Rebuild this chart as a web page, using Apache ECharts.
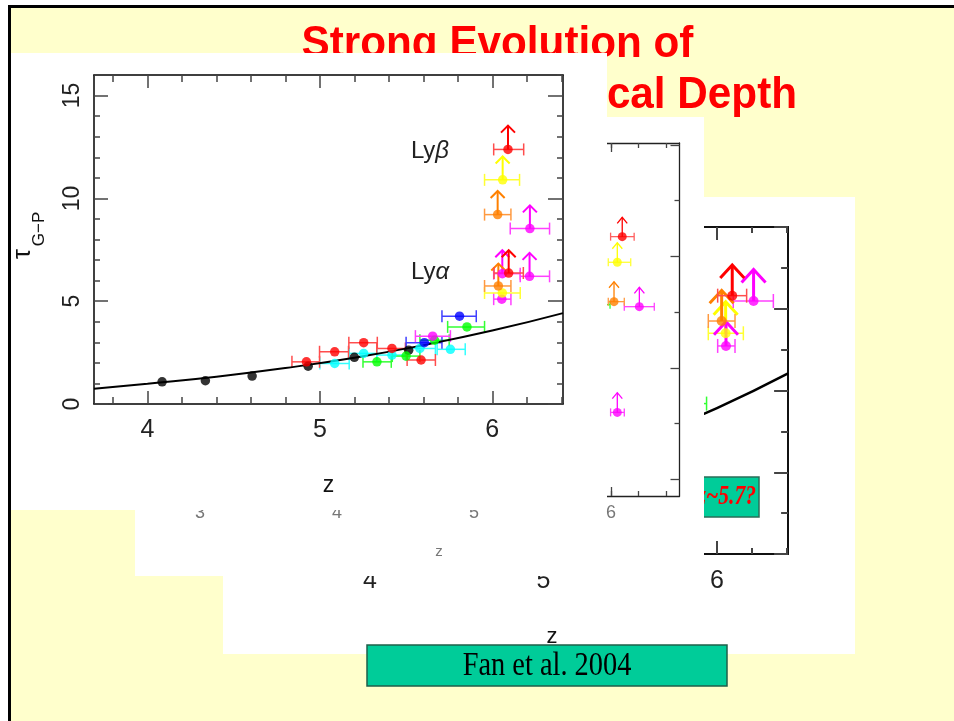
<!DOCTYPE html>
<html><head><meta charset="utf-8">
<script src="https://cdn.jsdelivr.net/npm/echarts@6/dist/echarts.min.js"></script>
<style>html,body{margin:0;padding:0;background:#fff}#c{width:954px;height:721px}</style>
</head><body><div id="c"></div>
<script>
// ================= DATA =================
// rows: [z, tau, zLow, zHigh, lowerLimitArrowTop (null = none)]
// ---- front figure (A) ----
const aBlack   = [[4.085,1.08],[4.336,1.13],[4.607,1.36],[4.932,1.84],[5.20,2.27],[5.515,2.62]];
const aRed     = [[4.922,2.05,4.838,4.998,null],[5.086,2.54,4.998,5.166,null],[5.254,2.98,5.168,5.333,null],
                  [5.418,2.70,5.33,5.496,null],[5.587,2.14,5.506,5.67,null],
                  [6.095,6.37,6.01,6.18,7.48],[6.091,12.38,6.008,6.182,13.54]];
const aCyan    = [[5.086,1.97,5.0,5.17,null],[5.254,2.46,5.17,5.33,null],[5.418,2.38,5.33,5.50,null],
                  [5.58,2.70,5.50,5.67,null],[5.757,2.66,5.68,5.843,null]];
const aGreen   = [[5.331,2.05,5.25,5.414,null],[5.50,2.33,5.42,5.58,null],[5.665,3.10,5.58,5.75,null],[5.853,3.75,5.741,5.955,null]];
const aBlue    = [[5.606,2.98,5.50,5.708,null],[5.81,4.27,5.708,5.907,null]];
const aMagenta = [[5.654,3.30,5.554,5.757,null],[6.055,5.10,6.008,6.108,null],[6.058,6.34,6.008,6.162,7.48],
                  [6.216,6.21,6.162,6.332,7.35],[6.218,8.53,6.104,6.332,9.66]];
const aOrange  = [[6.035,5.74,5.955,6.108,6.83],[6.031,9.21,5.955,6.108,10.36]];
const aYellow  = [[6.058,5.40,5.955,6.162,null],[6.06,10.9,5.955,6.158,12.04]];
// model curve
const curveZ   = [3.69, 4.0, 4.4, 4.8, 5.2, 5.6, 6.0, 6.41];
const curveTau = [0.74, 0.99, 1.33, 1.75, 2.25, 2.86, 3.57, 4.42];
// ---- middle figure (B) ----
const bRed     = [[6.082,13.06,5.997,6.169,14.1]];
const bYellow  = [[6.046,11.68,5.98,6.144,12.73]];
const bOrange  = [[6.022,9.56,5.98,6.097,10.63]];
const bMagenta = [[6.207,9.29,6.097,6.316,10.33],[6.046,3.6,5.997,6.097,4.66]];
const bGreen   = [[5.90,9.4,5.81,5.993,null]];
// ---- back figure (C) ----
const cRed     = [[6.088,6.32,6.004,6.171,7.07]];
const cMagenta = [[6.211,6.19,6.094,6.325,6.96],[6.052,5.09,6.004,6.104,5.68]];
const cOrange  = [[6.027,5.70,5.95,6.104,6.45]];
const cYellow  = [[6.05,5.40,5.95,6.152,6.17]];
const cGreen   = [[5.85,3.68,5.76,5.94,null]];
// ---- ticks / labels ----
const aXMajor = [4,5,6];
const aXMinor = [3.8,4.0,4.2,4.4,4.6,4.8,5.0,5.2,5.4,5.6,5.8,6.0,6.2,6.4];
const aYMajor = [0,5,10,15];
const aYMinor = [1,2,3,4,6,7,8,9,11,12,13,14,16];
const bXMajor = [3,4,5,6];
const bXMinor = [2.8,3.0,3.2,3.4,3.6,3.8,4.0,4.2,4.4,4.6,4.8,5.0,5.2,5.4,5.6,5.8,6.0,6.2,6.4];
const bYLong  = [0,6,12,18];
const bYShort = [3,9,15];
const cXMajor = [4,5,6];
const cXMinor = [3.6,3.8,4.0,4.2,4.4,4.6,4.8,5.0,5.2,5.4,5.6,5.8,6.0,6.2,6.4];
const cYLong  = [0,2,4,6,8];
const cYShort = [1,3,5,7];
const titleLine1 = 'Strong Evolution of';
const titleLine2 = 'Gunn-Peterson Optical Depth';

// ================= BUILD =================
const SANS = "'Liberation Sans', Arial, sans-serif";
const SERIF = "'Liberation Serif', 'Times New Roman', serif";
const grids = [], xAxes = [], yAxes = [], series = [];

function addPanel(c){
  const ai = xAxes.length;
  const gMaj = grids.length, gMin = gMaj + 1;
  grids.push(Object.assign({show:false}, c.rect));
  grids.push(Object.assign({show:false}, c.rect));
  const lineOn = {show:true, onZero:false, lineStyle:{color:c.axisColor, width:c.axisWidth}};
  const lineOff = {show:false, onZero:false};
  const tick = (vals,len)=>({show:true, inside:true, length:len, customValues:vals,
                             lineStyle:{color:c.tickColor, width:c.tickWidth}});
  const xb = {type:'value', min:c.xMin, max:c.xMax, splitLine:{show:false}, z:c.z, silent:true};
  const yb = {type:'value', min:c.yMin, max:c.yMax, splitLine:{show:false}, z:c.z, silent:true};
  xAxes.push(Object.assign({}, xb, {gridIndex:gMaj, position:'bottom', axisLine:lineOn, axisTick:tick(c.xMajor,c.xMajLen), axisLabel:c.xLabel}, c.xName||{}));
  xAxes.push(Object.assign({}, xb, {gridIndex:gMaj, position:'top', axisLine:lineOn, axisTick:tick(c.xMajor,c.xMajLen), axisLabel:{show:false}}));
  xAxes.push(Object.assign({}, xb, {gridIndex:gMin, position:'bottom', axisLine:lineOff, axisTick:tick(c.xMinor,c.xMinLen), axisLabel:{show:false}}));
  xAxes.push(Object.assign({}, xb, {gridIndex:gMin, position:'top', axisLine:lineOff, axisTick:tick(c.xMinor,c.xMinLen), axisLabel:{show:false}}));
  yAxes.push(Object.assign({}, yb, {gridIndex:gMaj, position:'left', axisLine:lineOn, axisTick:tick(c.yMajor,c.yMajLen), axisLabel:c.yLabel||{show:false}}));
  yAxes.push(Object.assign({}, yb, {gridIndex:gMaj, position:'right', axisLine:lineOn, axisTick:tick(c.yMajor,c.yMajLenR), axisLabel:{show:false}}));
  yAxes.push(Object.assign({}, yb, {gridIndex:gMin, position:'left', axisLine:lineOff, axisTick:tick(c.yMinor,c.yMinLen), axisLabel:{show:false}}));
  yAxes.push(Object.assign({}, yb, {gridIndex:gMin, position:'right', axisLine:lineOff, axisTick:tick(c.yMinor,c.yMinLen), axisLabel:{show:false}}));
  return ai;
}

function addPoints(rows, ai, col, barCol, st, z){
  series.push({
    type:'custom', xAxisIndex:ai, yAxisIndex:ai, z:z, silent:true, animation:false,
    data: rows.map(r=>[r[0], r[1]]), encode:{x:0, y:1},
    renderItem:(params, api)=>{
      const r = rows[params.dataIndex];
      const p = api.coord([r[0], r[1]]);
      const kids = [];
      if (r[2] != null) {
        const pl = api.coord([r[2], r[1]]), pr = api.coord([r[3], r[1]]);
        const s = {stroke:barCol, lineWidth:st.lw};
        kids.push({type:'line', shape:{x1:pl[0],y1:p[1],x2:pr[0],y2:p[1]}, style:s});
        kids.push({type:'line', shape:{x1:pl[0],y1:p[1]-st.cap,x2:pl[0],y2:p[1]+st.cap}, style:s});
        kids.push({type:'line', shape:{x1:pr[0],y1:p[1]-st.cap,x2:pr[0],y2:p[1]+st.cap}, style:s});
      }
      if (r[4] != null) {
        const pt = api.coord([r[0], r[4]]);
        const s = {stroke:col, lineWidth:st.alw, fill:null};
        kids.push({type:'line', shape:{x1:p[0],y1:p[1],x2:p[0],y2:pt[1]}, style:s});
        kids.push({type:'polyline', shape:{points:[[p[0]-st.cw,pt[1]+st.ch],[p[0],pt[1]],[p[0]+st.cw,pt[1]+st.ch]]}, style:s});
      }
      return {type:'group', children:kids};
    }
  });
  series.push({
    type:'scatter', xAxisIndex:ai, yAxisIndex:ai, z:z+1, silent:true, animation:false,
    symbol:'circle', symbolSize:st.size, itemStyle:{color:col},
    data: rows.map(r=>[r[0], r[1]])
  });
}

function addCurve(ai, z, w){
  series.push({type:'line', xAxisIndex:ai, yAxisIndex:ai, z:z, silent:true, animation:false,
    smooth:true, showSymbol:false, lineStyle:{color:'#000', width:w},
    data: curveZ.map((v,i)=>[v, curveTau[i]])});
}

// ---- Panel C (back) ----
const axC = addPanel({
  rect:{left:300.6, top:227, width:487.5, height:327}, xMin:3.6, xMax:6.41, yMin:0, yMax:8, z:3,
  axisColor:'#111', axisWidth:2, tickColor:'#444', tickWidth:2,
  xMajor:cXMajor, xMinor:cXMinor, xMajLen:13, xMinLen:6,
  yMajor:cYLong, yMinor:cYShort, yMajLen:14, yMajLenR:14, yMinLen:7,
  xLabel:{show:true, customValues:cXMajor, margin:15, fontSize:25, color:'#222', fontFamily:SANS}
});
const stC = {lw:1.5, cap:7, alw:3, cw:12, ch:13, size:10};
addCurve(axC, 4, 2.5);
addPoints(cGreen, axC, '#00ff00', '#33ff33', stC, 4);
addPoints(cYellow, axC, '#ffff00', '#ffff33', stC, 4);
addPoints(cMagenta, axC, '#ff00ff', '#ff40ff', stC, 4);
addPoints(cOrange, axC, '#ff8000', '#ff9a40', stC, 4);
addPoints(cRed, axC, '#ff0000', '#ff4d4d', stC, 4);

// ---- Panel B (middle) ----
const axB = addPanel({
  rect:{left:172.6, top:143, width:506.9, height:353}, xMin:2.8, xMax:6.5, yMin:-0.9, yMax:18.1, z:7,
  axisColor:'#222', axisWidth:1.3, tickColor:'#444', tickWidth:1.3,
  xMajor:bXMajor, xMinor:bXMinor, xMajLen:9, xMinLen:5,
  yMajor:bYLong, yMinor:bYShort, yMajLen:9, yMajLenR:9, yMinLen:5,
  xLabel:{show:true, customValues:bXMajor, margin:8, fontSize:18, color:'#777', fontFamily:SANS}
});
const stB = {lw:1.3, cap:4, alw:1.3, cw:5, ch:6, size:9};
addPoints(bGreen, axB, '#00ff00', '#33ff33', stB, 8);
addPoints(bMagenta, axB, '#ff00ff', '#ff40ff', stB, 8);
addPoints(bOrange, axB, '#ff8000', '#ff9a40', stB, 8);
addPoints(bYellow, axB, '#ffff00', '#ffff33', stB, 8);
addPoints(bRed, axB, '#ff0000', '#ff6060', stB, 8);

// ---- Panel A (front) ----
const axA = addPanel({
  rect:{left:94, top:75, width:469, height:329}, xMin:3.69, xMax:6.41, yMin:0, yMax:16, z:11,
  axisColor:'#000', axisWidth:1.5, tickColor:'#444', tickWidth:1.5,
  xMajor:aXMajor, xMinor:aXMinor, xMajLen:13, xMinLen:7,
  yMajor:aYMajor, yMinor:aYMinor, yMajLen:14, yMajLenR:15, yMinLen:6,
  xLabel:{show:true, customValues:aXMajor, margin:14, fontSize:25, color:'#222', fontFamily:SANS},
  yLabel:{show:true, customValues:aYMajor, rotate:90, margin:10, fontSize:23, color:'#222', fontFamily:SANS},
  xName:{name:'z', nameLocation:'middle', nameGap:70, nameTextStyle:{fontSize:23, color:'#111', fontFamily:SANS}}
});
const stA = {lw:1.5, cap:6, alw:2, cw:7, ch:7, size:9.5};
addCurve(axA, 12, 2);
addPoints(aBlack, axA, '#000000', '#000000', stA, 12);
addPoints(aCyan, axA, '#00ffff', '#33ffff', stA, 12);
addPoints(aGreen, axA, '#00ff00', '#33ff33', stA, 12);
addPoints(aRed.slice(0,5), axA, '#ff0000', '#ff4d4d', stA, 12);
addPoints(aBlue, axA, '#0000ff', '#4040ff', stA, 12);
addPoints(aMagenta, axA, '#ff00ff', '#ff40ff', stA, 12);
addPoints(aYellow, axA, '#ffff00', '#ffff33', stA, 12);
addPoints(aOrange, axA, '#ff8000', '#ff9a40', stA, 12);
addPoints(aRed.slice(5), axA, '#ff0000', '#ff4d4d', stA, 12);

// ---- slide graphics ----
const graphic = [
  {type:'rect', z:0, silent:true, shape:{x:9, y:6, width:945, height:715}, style:{fill:'#FFFFCC'}},
  {type:'text', z:1, x:497.5, y:45, scaleX:0.96, silent:true,
   style:{text:titleLine1, align:'center', verticalAlign:'middle', font:"bold 44px "+SANS, fill:'#FF0000'}},
  {type:'text', z:1, x:797, y:96, scaleX:0.96, silent:true,
   style:{text:titleLine2, align:'right', verticalAlign:'middle', font:"bold 44px "+SANS, fill:'#FF0000'}},
  // panel C
  {type:'rect', z:2, silent:true, shape:{x:223, y:197, width:632, height:457}, style:{fill:'#fff'}},
  {type:'text', z:3, x:552, y:637, silent:true, style:{text:'z', align:'center', verticalAlign:'middle', font:"22px "+SANS, fill:'#111'}},
  {type:'rect', z:5, silent:true, shape:{x:640, y:477, width:119, height:40}, style:{fill:'#00CC99', stroke:'#2a6e58', lineWidth:1.5}},
  {type:'text', z:5, x:756, y:497, scaleX:0.8, silent:true,
   style:{text:'z~5.7?', align:'right', verticalAlign:'middle', font:"italic bold 27px "+SERIF, fill:'#FF0000'}},
  // panel B
  {type:'rect', z:6, silent:true, shape:{x:135, y:117, width:569, height:459}, style:{fill:'#fff'}},
  {type:'text', z:7, x:439, y:552, silent:true, style:{text:'z', align:'center', verticalAlign:'middle', font:"15px "+SANS, fill:'#777'}},
  // panel A
  {type:'rect', z:10, silent:true, shape:{x:10, y:53, width:597, height:457}, style:{fill:'#fff'}},
  {type:'text', z:14, x:23, y:254, rotation:Math.PI/2, silent:true,
   style:{text:'τ', align:'center', verticalAlign:'middle', font:"25px "+SANS, fill:'#111'}},
  {type:'text', z:14, x:39, y:229, rotation:Math.PI/2, silent:true,
   style:{text:'G\u2212P', align:'center', verticalAlign:'middle', font:"17px "+SANS, fill:'#111'}},
  {type:'text', z:14, x:430, y:151, silent:true,
   style:{text:'{a|Ly}{b|β}', align:'center', verticalAlign:'middle',
     rich:{a:{fontSize:24, fontFamily:SANS, fill:'#222'}, b:{fontSize:24, fontFamily:SANS, fontStyle:'italic', fill:'#222'}}}},
  {type:'text', z:14, x:430, y:272, silent:true,
   style:{text:'{a|Ly}{b|α}', align:'center', verticalAlign:'middle',
     rich:{a:{fontSize:24, fontFamily:SANS, fill:'#222'}, b:{fontSize:24, fontFamily:SANS, fontStyle:'italic', fill:'#222'}}}},
  // citation box
  {type:'rect', z:15, silent:true, shape:{x:367, y:645, width:360, height:41}, style:{fill:'#00CC99', stroke:'#1f5f4a', lineWidth:1.5}},
  {type:'text', z:16, x:547, y:666, scaleX:0.86, silent:true,
   style:{text:'Fan et al. 2004', align:'center', verticalAlign:'middle', font:"33px "+SERIF, fill:'#000'}},
  // slide border
  {type:'rect', z:17, silent:true, shape:{x:8, y:5, width:946, height:3}, style:{fill:'#000'}},
  {type:'rect', z:17, silent:true, shape:{x:8, y:5, width:3, height:716}, style:{fill:'#000'}}
];

const chart = echarts.init(document.getElementById('c'), null, {renderer:'canvas'});
chart.setOption({
  animation:false, backgroundColor:'#ffffff',
  grid:grids, xAxis:xAxes, yAxis:yAxes, series:series, graphic:graphic
});
</script></body></html>
